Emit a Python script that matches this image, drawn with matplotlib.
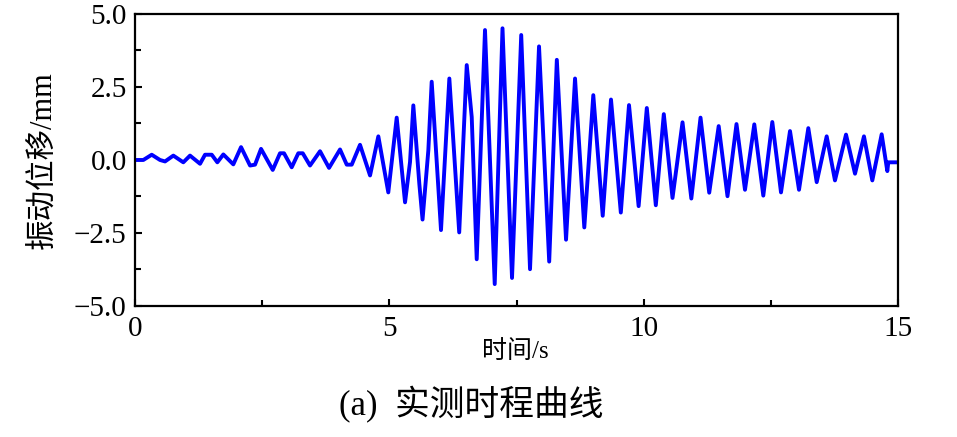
import matplotlib
matplotlib.use("Agg")
import matplotlib.pyplot as plt
from matplotlib.ticker import MultipleLocator

# ── Data: extrema / turning points ───
time_s = [
    0.000, 0.163, 0.328, 0.491, 0.590, 0.753, 0.949, 1.081, 1.278, 1.376,
    1.508, 1.618, 1.736, 1.932, 2.084, 2.261, 2.359, 2.477, 2.707, 2.850,
    2.929, 3.080, 3.210, 3.297, 3.440, 3.637, 3.814, 4.030, 4.162, 4.260,
    4.423, 4.620, 4.783, 4.979, 5.144, 5.308, 5.406, 5.471, 5.589, 5.652,
    5.766, 5.832, 6.015,
    6.179, 6.373, 6.521, 6.619, 6.717, 6.880, 7.071, 7.224, 7.411, 7.592, 7.765,
    7.942, 8.142, 8.292, 8.473, 8.650, 8.832, 9.009, 9.194, 9.357, 9.550,
    9.711, 9.900, 10.061, 10.238, 10.395, 10.566, 10.763, 10.936, 11.117, 11.288,
    11.474, 11.647, 11.824, 11.991, 12.174, 12.351, 12.528, 12.699, 12.876, 13.053,
    13.236, 13.401, 13.597, 13.760, 13.977, 14.154, 14.330, 14.494, 14.678, 14.789,
    14.808, 15.000,
]
disp_mm = [
    0.00, 0.00, 0.18, 0.00, -0.05, 0.15, -0.08, 0.15, -0.13, 0.18,
    0.18, -0.08, 0.19, -0.15, 0.44, -0.19, -0.16, 0.38, -0.34, 0.23,
    0.23, -0.25, 0.23, 0.23, -0.19, 0.30, -0.27, 0.36, -0.16, -0.16,
    0.52, -0.53, 0.81, -1.11, 1.45, -1.45, -0.07, 1.87, -0.82, -2.04,
    0.33, 2.68, -2.40,
    2.79, -2.48, 3.25, 1.47, -3.40, 4.45, -4.25, 4.51, -4.04, 4.28, -3.74,
    3.89, -3.48, 3.43, -2.73, 2.79, -2.31, 2.22, -1.91, 2.07, -1.80,
    1.88, -1.58, 1.78, -1.55, 1.57, -1.30, 1.29, -1.32, 1.45, -1.12,
    1.16, -1.24, 1.23, -1.02, 1.22, -1.22, 1.30, -1.11, 0.99, -1.02,
    1.09, -0.76, 0.81, -0.70, 0.87, -0.47, 0.81, -0.70, 0.88, -0.38,
    -0.08, -0.08,
]

x_ticks = [0, 5, 10, 15]
y_ticks = [-5.0, -2.5, 0.0, 2.5, 5.0]

plt.rcParams["font.family"] = ["Liberation Serif", "Noto Sans CJK SC"]

fig = plt.figure(figsize=(9.57, 4.37), dpi=100)
ax = fig.add_axes([0.1411, 0.2998, 0.7973, 0.6682])

ax.plot(time_s, disp_mm, color="#0000ff", linewidth=2.8,
        solid_joinstyle="round", solid_capstyle="round")

ax.set_xlim(0, 15)
ax.set_ylim(-5, 5)
ax.set_xticks(x_ticks)
ax.set_yticks(y_ticks)
ax.set_yticklabels([f"{v:.1f}".replace("-", "\u2212") for v in y_ticks])
ax.xaxis.set_minor_locator(MultipleLocator(2.5))
ax.yaxis.set_minor_locator(MultipleLocator(1.25))
ax.tick_params(which="both", direction="in", top=False, right=False,
               width=1.5, labelsize=21)
ax.tick_params(which="major", length=5)
ax.tick_params(which="minor", length=4.5)
ax.tick_params(axis="x", pad=7)
ax.tick_params(axis="y", pad=6)
for sp in ax.spines.values():
    sp.set_linewidth(1.6)

ax.set_ylabel("振动位移/mm", fontsize=22, labelpad=11)
fig.text(0.538, 0.195, "时间/s", fontsize=18, ha="center", va="center")
fig.text(0.492, 0.073, "(a)  实测时程曲线", fontsize=25, ha="center", va="center")

fig.savefig("out.png", dpi=100)
